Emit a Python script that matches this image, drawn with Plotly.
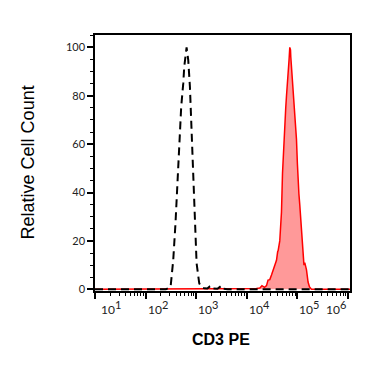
import numpy as np
import plotly.graph_objects as go

# Isotype control (dashed black) histogram: x as log10(CD3 PE intensity), y as relative count
dash_log10 = [1.0, 2.40, 2.494, 2.546, 2.59, 2.625, 2.665, 2.704, 2.744, 2.764, 2.81,
              2.843, 2.876, 2.895, 2.915, 2.941, 2.974, 3.008, 3.06, 3.106, 3.16, 3.22,
              3.27, 3.30, 3.34, 3.42, 3.47, 3.50, 3.54, 3.62, 6.04]
dash_count = [0, 0, 1, 12, 27, 42, 59, 75.5, 85, 92, 100,
              94.7, 83.7, 72.7, 59, 42.4, 25.9, 10.7, 2.5, 0.8, 0.4, 0.3,
              1.2, 1.5, 0.3, 0.2, 1.0, 1.5, 0.2, 0, 0]

# CD3 PE stained sample (red filled) histogram
red_log10 = [1.0, 4.10, 4.19, 4.258, 4.30, 4.35, 4.39, 4.42, 4.455, 4.49, 4.52, 4.55,
             4.587, 4.61, 4.62, 4.652, 4.67, 4.686, 4.706, 4.72, 4.751, 4.77, 4.785,
             4.80, 4.816, 4.836, 4.85, 4.864, 4.87, 4.90, 4.915, 4.95, 4.982, 5.00,
             5.014, 5.03, 5.047, 5.06, 5.081, 5.11, 5.13, 5.146, 5.18, 5.211, 5.24,
             5.278, 6.04]
red_count = [0, 0, 0.3, 0.5, 1.5, 0.8, 1.5, 3.8, 4, 6, 8, 10.5,
             12, 15.5, 16, 20, 25, 32, 48, 55, 66, 75, 80,
             86, 89, 95, 100, 99, 96, 87, 85, 74, 62, 52,
             42, 39.5, 35, 31, 25, 15, 10, 11, 8, 3, 1,
             0, 0]

decade_exponents = [1, 2, 3, 4, 5, 6]
y_ticks = [0, 20, 40, 60, 80, 100]

x_title = "CD3 PE"
y_title = "Relative Cell Count"

fig = go.Figure()
fig.add_trace(go.Scatter(
    x=10 ** np.array(red_log10), y=red_count, mode="lines",
    line=dict(color="#ff0000", width=1.5),
    fill="tozeroy", fillcolor="rgba(255,0,0,0.4)", hoverinfo="skip"))
fig.add_trace(go.Scatter(
    x=10 ** np.array(dash_log10), y=dash_count, mode="lines",
    line=dict(color="#000000", width=2, dash="8px,5px"), hoverinfo="skip"))

minor_x = [m * 10 ** k for k in range(1, 6) for m in range(2, 10)]

fig.update_xaxes(
    type="log", range=[1.0, 6.04],
    showgrid=False, zeroline=False,
    showline=True, linecolor="black", linewidth=1.5, mirror=True,
    ticks="outside", ticklen=6, tickwidth=1.5, tickcolor="black",
    tickmode="array", tickvals=[10 ** e for e in decade_exponents],
    showticklabels=False,
    minor=dict(tickmode="array", tickvals=minor_x, ticks="outside",
               ticklen=3, tickwidth=1, tickcolor="black", showgrid=False),
)
fig.update_yaxes(
    range=[-0.7, 105.1],
    showgrid=False, zeroline=False,
    showline=True, linecolor="black", linewidth=1.5, mirror=True,
    ticks="outside", ticklen=6, tickwidth=1.5, tickcolor="black",
    tickmode="array", tickvals=y_ticks,
    tickfont=dict(family="Lato", size=11, color="#222222"),
    minor=dict(dtick=5, ticks="outside", ticklen=3, tickwidth=1,
               tickcolor="black", showgrid=False),
)

annotations = []
for e in decade_exponents:
    if e == decade_exponents[0]:
        xanchor, xshift = "left", 4
    elif e == decade_exponents[-1]:
        xanchor, xshift = "right", 0
    else:
        xanchor, xshift = "left", 0
    annotations.append(dict(
        x=e, y=0, xref="x", yref="paper", yanchor="top", yshift=-5,
        xanchor=xanchor, xshift=xshift,
        text=f"10<sup><span style='font-size:11px'>{e}</span></sup>", showarrow=False,
        font=dict(family="Lato", size=12, color="#222222")))

annotations.append(dict(
    x=0.495, y=-0.1875, xref="paper", yref="paper", yanchor="middle", xanchor="center",
    text=f"<b>{x_title}</b>", showarrow=False,
    font=dict(family="Liberation Sans", size=16, color="black")))
annotations.append(dict(
    x=-0.261, y=0.504, xref="paper", yref="paper", xanchor="center", yanchor="middle",
    text=y_title, textangle=-90, showarrow=False,
    font=dict(family="Liberation Sans", size=18, color="black")))

# page body adds an 8px offset, so the figure is sized/margined to compensate
fig.update_layout(
    width=363, height=358,
    margin=dict(l=87, r=21, t=27, b=75),
    paper_bgcolor="white", plot_bgcolor="white",
    showlegend=False,
    annotations=annotations,
)

fig.write_html("out.html")
